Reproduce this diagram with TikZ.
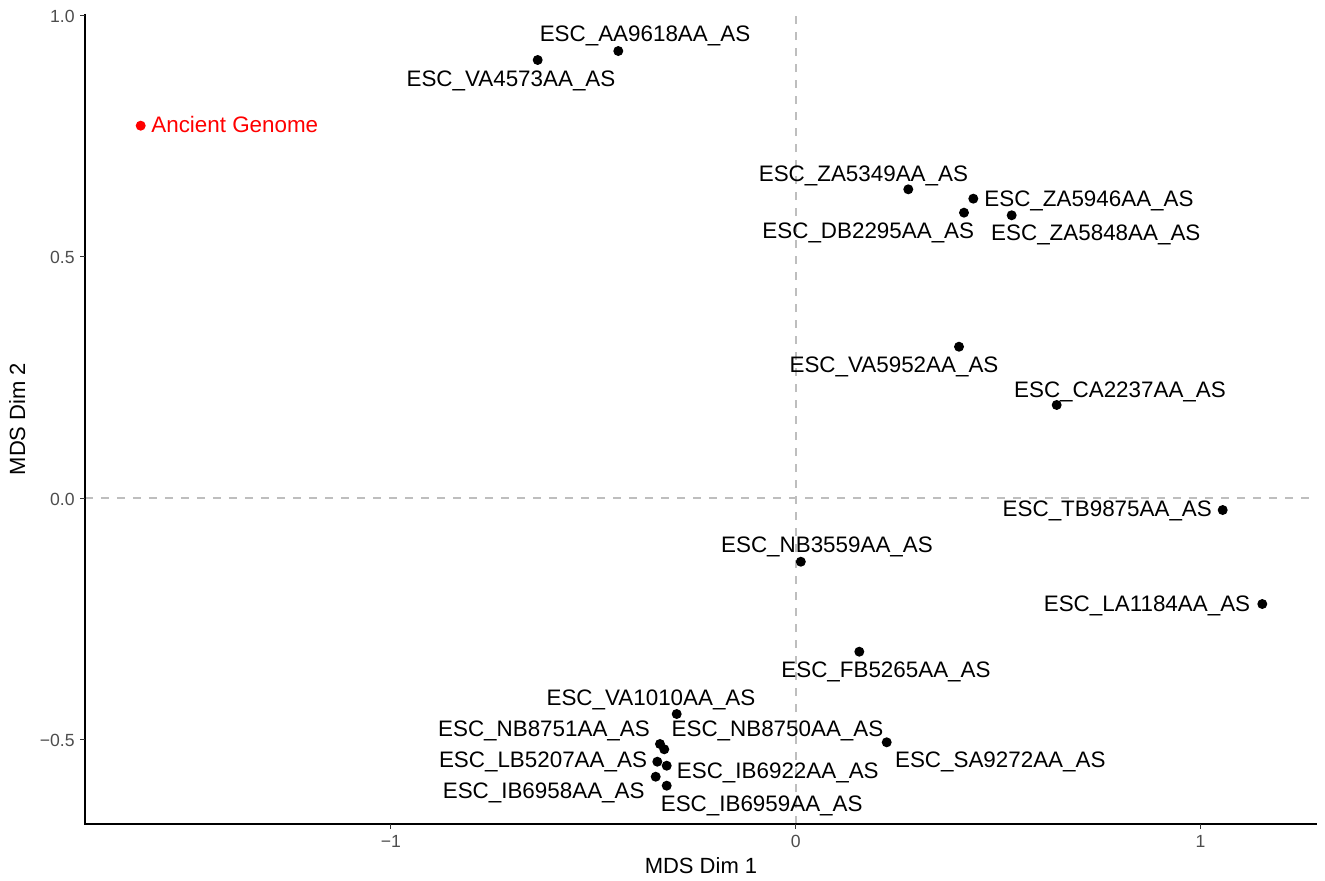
\documentclass[tikz,border=0pt]{standalone}
\usepackage{fontspec}
\setmainfont{Liberation Sans}

\definecolor{ticktext}{HTML}{4D4D4D}
\definecolor{tickmark}{HTML}{333333}
\definecolor{refline}{HTML}{BEBEBE}

\tikzstyle{sample}=[circle,fill=black,inner sep=0pt,minimum size=5pt]
\tikzstyle{samplelabel}=[inner sep=0pt,text height=0.72em,text depth=0pt,font=\fontsize{11.2}{13}\selectfont]
\tikzstyle{ticklabel}=[inner sep=0pt,text height=0.72em,text depth=0pt,text=ticktext,font=\fontsize{8.8}{10}\selectfont]
\tikzstyle{axistitle}=[inner sep=0pt,text height=0.72em,text depth=0pt,font=\fontsize{11}{13}\selectfont]
\tikzstyle{zeroline}=[draw=refline,line width=0.7pt,dash pattern=on 4pt off 4pt]

\begin{document}
\begin{tikzpicture}[x=202.4pt,y=241.35pt]
  \useasboundingbox (-1.9659,-0.7914) rectangle (1.3073,1.0317);
  \coordinate (ll) at (-1.7559,-0.6754);
  \coordinate (lr) at (1.2875,-0.6754);
  \coordinate (ul) at (-1.7559,1.0027);
  % reference lines through zero
  \draw[zeroline] (0,-0.6754) -- (0,1.0027);
  \draw[zeroline] (-1.7559,0) -- (1.2875,0);
  % axes
  \draw[line width=1pt] (ul) -- (ll) -- (lr);
  \foreach \y/\t [count=\i] in {1.0/1.0,0.5/0.5,0.0/0.0,-0.5/−0.5} {
    \draw[tickmark,line width=0.5pt] (-1.7559,\y) -- ++(-2.5pt,0);
    \node[ticklabel,anchor=east] (ytick\i) at (-1.7806,\y) {\t};
  }
  \foreach \x/\t [count=\i] in {-1/−1,0/0,1/1} {
    \draw[tickmark,line width=0.5pt] (\x,-0.6754) -- ++(0,-2.5pt);
    \node[ticklabel] (xtick\i) at (\x,-0.7085) {\t};
  }
  \node[axistitle] (xtitle) at (-0.2342,-0.7624) {MDS Dim 1};
  \node[axistitle,rotate=90] (ytitle) at (-1.9214,0.1637) {MDS Dim 2};
  % samples
  \node[sample,fill=red] (ancient) at (-1.6183,0.7713) {};
  \node[samplelabel,text=red,anchor=west] (ancient-text) at (-1.5929,0.7713) {Ancient Genome};
  \foreach \id/\x/\y/\lx/\ly in {
    AA9618/-0.4385/0.9260/-0.3725/0.9606,
    VA4573/-0.6376/0.9074/-0.7036/0.8680,
    ZA5349/0.2779/0.6395/0.1670/0.6712,
    ZA5946/0.4385/0.6201/0.7243/0.6188,
    DB2295/0.4155/0.5911/0.1791/0.5531,
    ZA5848/0.5333/0.5857/0.7411/0.5484,
    VA5952/0.4032/0.3134/0.2426/0.2741,
    CA2237/0.6445/0.1927/0.8009/0.2237,
    TB9875/1.0546/-0.0249/0.7695/-0.0234,
    NB3559/0.0124/-0.1320/0.0771/-0.0988,
    LA1184/1.1524/-0.2196/0.8676/-0.2196,
    FB5265/0.1569/-0.3184/0.2228/-0.3563,
    VA1010/-0.2942/-0.4475/-0.3577/-0.4150,
    NB8751/-0.3355/-0.5096/-0.6220/-0.4792,
    NB8750/-0.3249/-0.5206/-0.0452/-0.4792,
    LB5207/-0.3421/-0.5463/-0.6245/-0.5428,
    IB6922/-0.3189/-0.5546/-0.0445/-0.5656,
    IB6958/-0.3461/-0.5774/-0.6228/-0.6085,
    IB6959/-0.3189/-0.5960/-0.0842/-0.6339,
    SA9272/0.2246/-0.5061/0.5052/-0.5442} {
    \node[sample] (\id) at (\x,\y) {};
    \node[samplelabel] (\id-text) at (\lx,\ly) {ESC\_\id AA\_AS};
  }
\end{tikzpicture}
\end{document}
